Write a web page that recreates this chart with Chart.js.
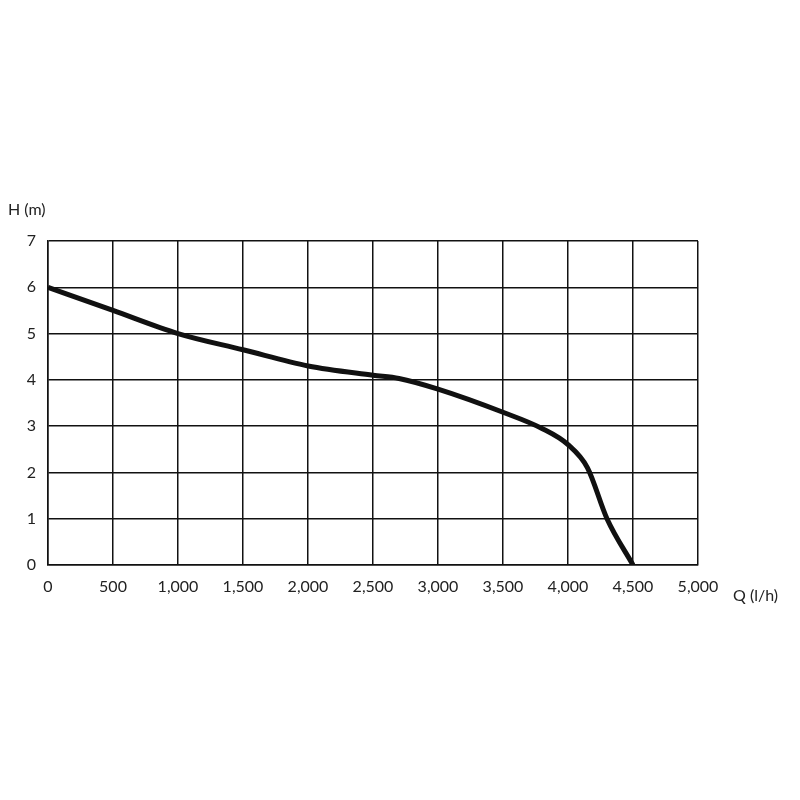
<!DOCTYPE html>
<html><head><meta charset="utf-8">
<script src="https://cdn.jsdelivr.net/npm/chart.js@4"></script>
<style>html,body{margin:0;background:#fff}#w{width:800px;height:800px}</style>
</head><body><div id="w"><canvas id="c"></canvas></div>
<script>
const flowQ = [0, 500, 1000, 1500, 2000, 2500, 2700, 3000, 3500, 3800, 4000, 4150, 4300, 4500];
const headH = [6.0, 5.5, 5.0, 4.65, 4.3, 4.1, 4.03, 3.8, 3.3, 2.95, 2.6, 2.1, 1.0, 0];
const xTicks = [0,500,1000,1500,2000,2500,3000,3500,4000,4500,5000];
const yTicks = [0,1,2,3,4,5,6,7];
const font = {family:'Lato, "Open Sans", sans-serif', size:16};
const labels = {id:'lbl', afterDraw(ch){const c=ch.ctx;c.save();c.fillStyle='#222';c.font='16px Lato, "Open Sans", sans-serif';c.textBaseline='middle';c.textAlign='left';c.fillText('H (m)',8,210);c.fillText('Q (l/h)',733,596);c.restore();}};
new Chart(document.getElementById('c'),{
 type:'scatter',
 data:{datasets:[{data:flowQ.map((x,i)=>({x,y:headH[i]})),showLine:true,borderColor:'#111',borderWidth:5,pointRadius:0,cubicInterpolationMode:'monotone',fill:false}]},
 options:{responsive:true,maintainAspectRatio:false,animation:false,
  layout:{padding:{left:0,right:102,top:241,bottom:205}},
  plugins:{legend:{display:false},tooltip:{enabled:false}},
  scales:{
   x:{type:'linear',min:0,max:5000,afterFit(s){s.height=30;},afterBuildTicks(s){s.ticks=xTicks.map(v=>({value:v}));},
      grid:{color:'#111',lineWidth:1.5,drawTicks:false},border:{color:'#111',width:1.5},
      ticks:{color:'#222',font,padding:12}},
   y:{min:0,max:7,afterFit(s){s.width=48;},afterBuildTicks(s){s.ticks=yTicks.map(v=>({value:v}));},
      grid:{color:'#111',lineWidth:1.5,drawTicks:false},border:{color:'#111',width:1.5},
      ticks:{color:'#222',font,padding:12}}
  }},
 plugins:[labels]
});
</script></body></html>
